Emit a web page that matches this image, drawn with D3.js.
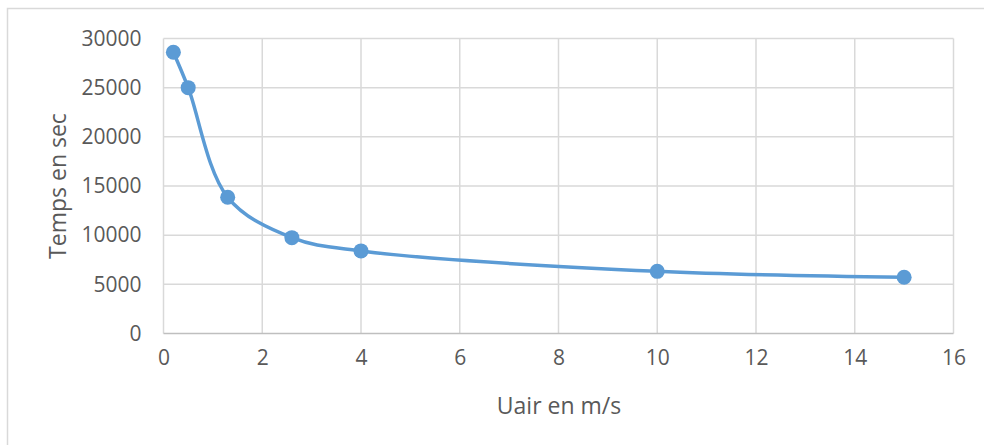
<!DOCTYPE html>
<html>
  <head>
    <meta charset="utf-8" />
    <script src="https://cdn.jsdelivr.net/npm/d3@7"></script>
    <style>
      body { margin: 0; background: #fff; }
      text { font-family: "Open Sans", sans-serif; fill: #595959; }
    </style>
  </head>
  <body>
    <div id="master"></div>
    <script type="text/javascript">
// values
var uair  = [0.2, 0.5, 1.3, 2.6, 4, 10, 15];
var temps = [28600, 25000, 13850, 9750, 8400, 6320, 5720];
var xTicks = [0, 2, 4, 6, 8, 10, 12, 14, 16];
var yTicks = [0, 5000, 10000, 15000, 20000, 25000, 30000];

var width = 984, height = 445;
var svg = d3.select("#master").append("svg")
  .attr("width", width)
  .attr("height", height);

// chart frame (only top + left visible in the shot)
svg.append("rect")
  .attr("x", 7.5).attr("y", 8.5)
  .attr("width", 1000).attr("height", 500)
  .attr("fill", "none")
  .attr("stroke", "#d9d9d9")
  .attr("stroke-width", 1.5);

var x = d3.scaleLinear().domain([0, 16]).range([163.5, 953.5]);
var y = d3.scaleLinear().domain([0, 30000]).range([333.5, 38.5]);

// grid
svg.append("g").selectAll("line.v")
  .data(xTicks).enter().append("line")
    .attr("x1", function(d){ return x(d); })
    .attr("x2", function(d){ return x(d); })
    .attr("y1", y(30000)).attr("y2", y(0))
    .attr("stroke", "#d9d9d9").attr("stroke-width", 1.5);

svg.append("g").selectAll("line.h")
  .data(yTicks).enter().append("line")
    .attr("x1", x(0)).attr("x2", x(16))
    .attr("y1", function(d){ return y(d); })
    .attr("y2", function(d){ return y(d); })
    .attr("stroke", function(d){ return d === 0 ? "#bfbfbf" : "#d9d9d9"; })
    .attr("stroke-width", 1.5);

// axes (labels only)
var xAxis = svg.append("g")
  .attr("transform", "translate(0," + y(0) + ")")
  .call(d3.axisBottom(x).tickValues(xTicks).tickSize(0).tickPadding(17));
var yAxis = svg.append("g")
  .attr("transform", "translate(" + x(0) + ",0)")
  .call(d3.axisLeft(y).tickValues(yTicks).tickSize(0).tickPadding(22)
    .tickFormat(d3.format("d")));
[xAxis, yAxis].forEach(function(a){
  a.select(".domain").remove();
  a.selectAll("text").style("font-size", "21px").attr("fill", "#595959")
    .style("font-family", "'Open Sans', sans-serif");
});
xAxis.selectAll("text").attr("dy", "0.71em");

// axis titles
svg.append("text")
  .attr("x", 559).attr("y", 414)
  .attr("text-anchor", "middle")
  .style("font-size", "23px")
  .text("Uair en m/s");

svg.append("text")
  .attr("transform", "translate(66,186) rotate(-90)")
  .attr("text-anchor", "middle")
  .style("font-size", "23px")
  .text("Temps en sec");

// series
var data = uair.map(function(d, i){ return [d, temps[i]]; });
var line = d3.line()
  .x(function(d){ return x(d[0]); })
  .y(function(d){ return y(d[1]); })
  .curve(d3.curveCatmullRom.alpha(0.5));

svg.append("path")
  .datum(data)
  .attr("d", line)
  .attr("fill", "none")
  .attr("stroke", "#5b9bd5")
  .attr("stroke-width", 3.5);

svg.selectAll("circle")
  .data(data).enter().append("circle")
    .attr("cx", function(d){ return x(d[0]); })
    .attr("cy", function(d){ return y(d[1]); })
    .attr("r", 7.5)
    .attr("fill", "#5b9bd5");
    </script>
  </body>
</html>
